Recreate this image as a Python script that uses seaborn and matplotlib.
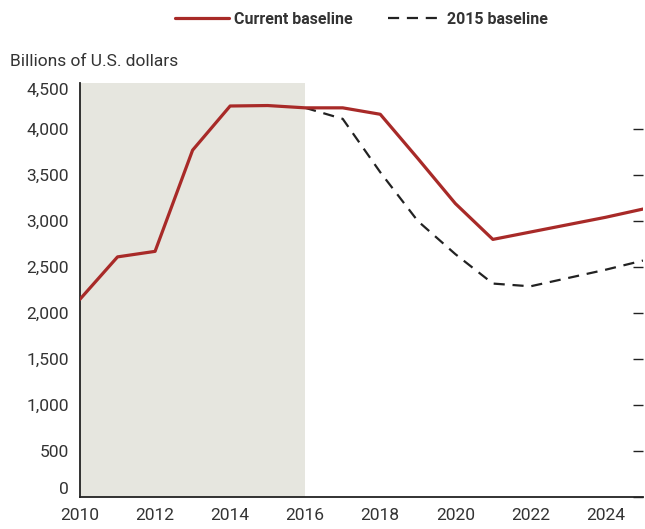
import matplotlib
matplotlib.use("Agg")
import matplotlib.pyplot as plt
import seaborn as sns
import pandas as pd
from matplotlib.ticker import FuncFormatter

years_current = [2010, 2011, 2012, 2013, 2014, 2015, 2016, 2017, 2018, 2019, 2020, 2021, 2022, 2023, 2024, 2025]
current_baseline = [2150, 2610, 2670, 3770, 4250, 4255, 4230, 4230, 4160, 3680, 3190, 2800, 2880, 2960, 3040, 3130]

years_2015 = [2016, 2017, 2018, 2019, 2020, 2021, 2022, 2023, 2024, 2025]
baseline_2015 = [4230, 4110, 3530, 3000, 2640, 2320, 2290, 2380, 2470, 2570]

shade_start, shade_end = 2010, 2016
y_ticks = [0, 500, 1000, 1500, 2000, 2500, 3000, 3500, 4000, 4500]
x_ticks = [2010, 2012, 2014, 2016, 2018, 2020, 2022, 2024]

sns.set_style("white")
plt.rcParams['font.family'] = ['Roboto', 'DejaVu Sans']
text_color = "#333333"
red = "#A82A28"

df_cur = pd.DataFrame({"year": years_current, "value": current_baseline})
df_old = pd.DataFrame({"year": years_2015, "value": baseline_2015})

fig = plt.figure(figsize=(6.45, 5.29), dpi=100)
ax = fig.add_axes([80 / 645, 32 / 529, 563 / 645, 414 / 529])

ax.axvspan(shade_start, shade_end, color="#E6E6DF", lw=0, zorder=0)

sns.lineplot(data=df_old, x="year", y="value", ax=ax, color="#222222", lw=1.6,
             dashes=False, zorder=2, label="2015 baseline")
ax.lines[-1].set_dashes((5, 3.5))
sns.lineplot(data=df_cur, x="year", y="value", ax=ax, color=red, lw=2.3,
             zorder=3, label="Current baseline")

ax.set_xlim(2010, 2025)
ax.set_ylim(0, 4500)
ax.set_xticks(x_ticks)
ax.set_yticks(y_ticks)
ax.yaxis.set_major_formatter(FuncFormatter(lambda v, p: f"{int(v):,}"))
ax.set_xlabel("")
ax.set_ylabel("")

for s in ["top", "right"]:
    ax.spines[s].set_visible(False)
for s in ["left", "bottom"]:
    ax.spines[s].set_color("#222222")
    ax.spines[s].set_linewidth(1.3)

ax.tick_params(axis="both", direction="in", length=7, width=1, color="#222222",
               labelsize=12.5, labelcolor=text_color)
ax.tick_params(axis="y", right=True, pad=8)
ax.tick_params(axis="x", pad=8)
ticks = ax.yaxis.get_major_ticks()
ticks[-1].tick1line.set_visible(False)
ticks[-1].tick2line.set_visible(False)
ticks[-1].label1.set_va("top")
ticks[0].label1.set_va("bottom")

fig.text(10 / 645, 1 - 62 / 529, "Billions of U.S. dollars", fontsize=12.5,
         color=text_color, va="center", ha="left")

handles, labels = ax.get_legend_handles_labels()
ax.get_legend().remove()
order = [1, 0]
fig.legend([handles[i] for i in order], [labels[i] for i in order],
           loc="center", bbox_to_anchor=(0.56, 1 - 19 / 529), ncol=2, frameon=False,
           handlelength=3.4, handletextpad=0.3, columnspacing=2.2,
           prop={"size": 11.5, "weight": "bold"}, labelcolor=text_color)

fig.savefig("out.png", dpi=100)
